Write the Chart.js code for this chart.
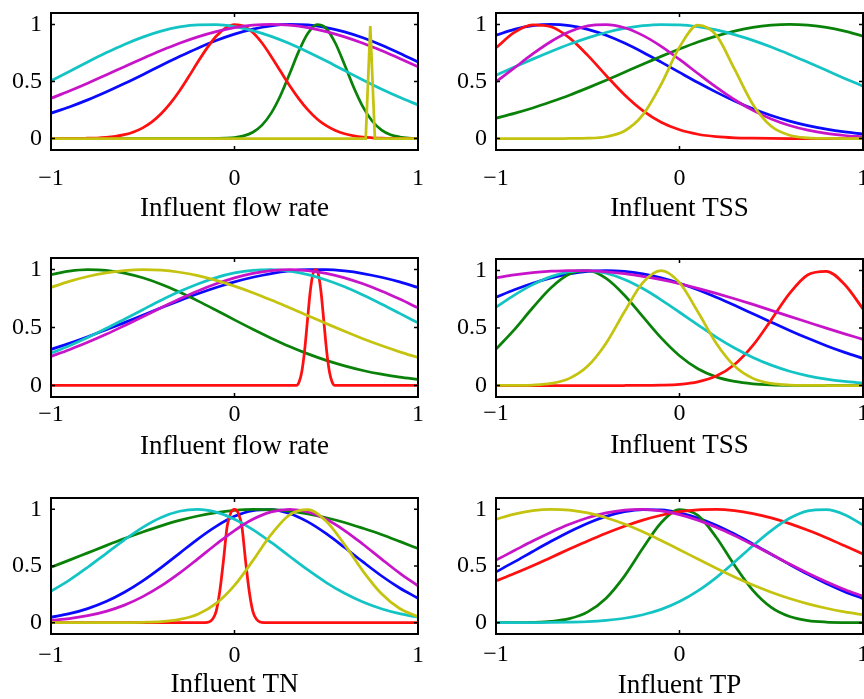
<!DOCTYPE html>
<html>
<head>
<meta charset="utf-8">
<script src="https://cdn.jsdelivr.net/npm/chart.js@4.4.0/dist/chart.umd.min.js"></script>
<style>
  body { margin: 0; background: #fff; }
  #fig { position: relative; width: 864px; height: 699px; overflow: hidden; background: #fff; }
  .cell { position: absolute; width: 432px; height: 233px; }
</style>
</head>
<body>
<div id="fig"></div>
<script>
// shared sample positions
const xs = [-1, -0.9, -0.8, -0.7, -0.6, -0.5, -0.4, -0.3, -0.2, -0.1, 0, 0.1, 0.2, 0.3, 0.4, 0.5, 0.6, 0.7, 0.8, 0.9, 1];
const xsHalf = [-1, -0.95, -0.9, -0.85, -0.8, -0.75, -0.7, -0.65, -0.6, -0.55, -0.5, -0.45, -0.4, -0.35, -0.3, -0.25, -0.2, -0.15, -0.1, -0.05,
  0, 0.05, 0.1, 0.15, 0.2, 0.25, 0.3, 0.35, 0.4, 0.45, 0.5, 0.55, 0.6, 0.65, 0.7, 0.75, 0.8, 0.85, 0.9, 0.95, 1];

const xTickVals = [-1, 0, 1];
const xTickText = ['\u22121', '0', '1'];
const yTickVals = [0, 0.5, 1];
const yTickText = ['0', '0.5', '1'];
const titles = ['Influent flow rate', 'Influent TSS', 'Influent flow rate', 'Influent TSS', 'Influent TN', 'Influent TP'];

// panel 1 - influent flow rate
const p1Blue = [0.223, 0.277, 0.339, 0.408, 0.482, 0.560, 0.640, 0.718, 0.792, 0.859, 0.915, 0.959, 0.988, 1.000, 0.995, 0.972, 0.935, 0.883, 0.820, 0.748, 0.671];
const p1Green = [0, 0, 0, 0, 0, 0, 0, 0, 0, 0, 0, 0, 0, 0, 0, 0, 0, 0, 0.001, 0.003,
  0.009, 0.024, 0.056, 0.118, 0.223, 0.375, 0.566, 0.764, 0.923, 0.998, 0.965, 0.835, 0.647, 0.448, 0.278, 0.154, 0.077, 0.034, 0.014, 0.005, 0.002];
const p1Red = [0, 0, 0.001, 0.001, 0.003, 0.005, 0.010, 0.019, 0.034, 0.058, 0.094, 0.146, 0.217, 0.308, 0.417, 0.541, 0.670, 0.792, 0.896, 0.968,
  0.999, 0.986, 0.929, 0.837, 0.720, 0.592, 0.465, 0.350, 0.251, 0.172, 0.113, 0.071, 0.042, 0.024, 0.013, 0.007, 0.003, 0.002, 0.001, 0, 0];
const p1Cyan = [0.506, 0.588, 0.671, 0.751, 0.825, 0.889, 0.941, 0.978, 0.997, 0.998, 0.981, 0.946, 0.895, 0.832, 0.758, 0.679, 0.596, 0.514, 0.435, 0.362, 0.295];
const p1Magenta = [0.353, 0.417, 0.485, 0.557, 0.630, 0.702, 0.771, 0.835, 0.891, 0.937, 0.972, 0.993, 1.000, 0.993, 0.972, 0.937, 0.891, 0.835, 0.771, 0.702, 0.630];
const p1YellowX = [-1, 0.715, 0.74, 0.765, 1];
const p1Yellow = [0, 0, 0.985, 0, 0];

// panel 2 - influent TSS
const p2Blue = [0.905, 0.957, 0.989, 1.000, 0.989, 0.957, 0.905, 0.837, 0.757, 0.670, 0.580, 0.491, 0.407, 0.329, 0.261, 0.202, 0.153, 0.113, 0.082, 0.058, 0.040];
const p2Green = [0.179, 0.221, 0.268, 0.322, 0.380, 0.444, 0.511, 0.581, 0.651, 0.720, 0.785, 0.846, 0.898, 0.941, 0.974, 0.993, 1.000, 0.993, 0.974, 0.941, 0.898];
const p2Red = [0.795, 0.930, 0.996, 0.979, 0.882, 0.729, 0.553, 0.384, 0.245, 0.143, 0.077, 0.038, 0.017, 0.007, 0.003, 0.001, 0, 0, 0, 0, 0];
const p2Cyan = [0.555, 0.626, 0.696, 0.763, 0.826, 0.882, 0.929, 0.965, 0.989, 0.999, 0.997, 0.981, 0.952, 0.911, 0.860, 0.802, 0.737, 0.668, 0.598, 0.527, 0.459];
const p2Magenta = [0.497, 0.619, 0.741, 0.850, 0.935, 0.987, 0.999, 0.971, 0.904, 0.808, 0.693, 0.570, 0.450, 0.340, 0.247, 0.172, 0.115, 0.074, 0.045, 0.027, 0.015];
const p2Yellow = [0, 0, 0, 0, 0.001, 0.003, 0.016, 0.066, 0.207, 0.475, 0.801, 0.994, 0.906, 0.608, 0.299, 0.108, 0.029, 0.006, 0.001, 0, 0];

// panel 3 - influent flow rate
const p3Blue = [0.311, 0.363, 0.420, 0.480, 0.542, 0.606, 0.670, 0.732, 0.791, 0.845, 0.894, 0.934, 0.966, 0.988, 0.999, 0.999, 0.988, 0.966, 0.934, 0.894, 0.845];
const p3Green = [0.956, 0.987, 1.000, 0.994, 0.970, 0.929, 0.874, 0.806, 0.730, 0.649, 0.566, 0.485, 0.408, 0.336, 0.272, 0.216, 0.169, 0.129, 0.097, 0.072, 0.052];
const p3RedX = [-1, 0.337, 0.352, 0.367, 0.382, 0.397, 0.412, 0.427, 0.442, 0.457, 0.472, 0.487, 0.502, 0.517, 0.532, 0.547, 1];
const p3Red = [0, 0, 0.03, 0.12, 0.30, 0.55, 0.80, 0.96, 1, 0.96, 0.80, 0.55, 0.30, 0.12, 0.03, 0, 0];
const p3Cyan = [0.279, 0.343, 0.414, 0.491, 0.572, 0.654, 0.735, 0.810, 0.876, 0.931, 0.971, 0.994, 1.000, 0.987, 0.957, 0.910, 0.851, 0.780, 0.703, 0.622, 0.540];
const p3Magenta = [0.251, 0.308, 0.372, 0.441, 0.516, 0.593, 0.670, 0.745, 0.815, 0.877, 0.929, 0.968, 0.992, 1.000, 0.992, 0.968, 0.929, 0.877, 0.815, 0.745, 0.670];
const p3Yellow = [0.846, 0.898, 0.940, 0.972, 0.992, 1.000, 0.995, 0.977, 0.948, 0.907, 0.857, 0.800, 0.737, 0.670, 0.602, 0.534, 0.467, 0.403, 0.344, 0.290, 0.241];

// panel 4 - influent TSS
const p4Blue = [0.767, 0.832, 0.889, 0.936, 0.971, 0.993, 1.000, 0.993, 0.971, 0.936, 0.889, 0.832, 0.767, 0.697, 0.624, 0.551, 0.479, 0.410, 0.346, 0.288, 0.236];
const p4Green = [0.316, 0.486, 0.676, 0.850, 0.969, 0.998, 0.931, 0.785, 0.599, 0.414, 0.259, 0.146, 0.075, 0.035, 0.015, 0.006, 0.002, 0.001, 0, 0, 0];
const p4Red = [0, 0, 0, 0, 0, 0, 0, 0, 0.001, 0.003, 0.010, 0.032, 0.082, 0.183, 0.349, 0.571, 0.801, 0.963, 0.993, 0.878, 0.666];
const p4Cyan = [0.681, 0.786, 0.877, 0.947, 0.989, 0.999, 0.976, 0.922, 0.843, 0.745, 0.637, 0.527, 0.421, 0.326, 0.244, 0.177, 0.124, 0.084, 0.055, 0.035, 0.021];
const p4Magenta = [0.936, 0.962, 0.982, 0.994, 1.000, 0.998, 0.989, 0.972, 0.949, 0.920, 0.885, 0.845, 0.801, 0.754, 0.705, 0.653, 0.601, 0.550, 0.499, 0.449, 0.401];
const p4Yellow = [0, 0.001, 0.004, 0.018, 0.062, 0.169, 0.368, 0.641, 0.895, 1.000, 0.895, 0.641, 0.368, 0.169, 0.062, 0.018, 0.004, 0.001, 0, 0, 0];

// panel 5 - influent TN
const p5Blue = [0.048, 0.079, 0.124, 0.186, 0.268, 0.369, 0.486, 0.612, 0.738, 0.850, 0.938, 0.989, 0.998, 0.963, 0.889, 0.785, 0.663, 0.536, 0.414, 0.306, 0.216];
const p5Green = [0.489, 0.552, 0.616, 0.680, 0.742, 0.800, 0.854, 0.902, 0.941, 0.971, 0.991, 1.000, 0.997, 0.984, 0.960, 0.926, 0.884, 0.833, 0.778, 0.717, 0.654];
const p5RedX = [-1, -0.16, -0.14, -0.12, -0.10, -0.08, -0.06, -0.04, -0.02, 0, 0.02, 0.04, 0.06, 0.08, 0.10, 0.12, 0.14, 0.16, 1];
const p5Red = [0, 0, 0.005, 0.03, 0.10, 0.28, 0.55, 0.85, 0.97, 1, 0.97, 0.85, 0.55, 0.28, 0.10, 0.03, 0.005, 0, 0];
const p5Cyan = [0.277, 0.375, 0.489, 0.610, 0.731, 0.841, 0.928, 0.983, 1.000, 0.975, 0.913, 0.821, 0.708, 0.586, 0.465, 0.354, 0.259, 0.182, 0.123, 0.079, 0.049];
const p5Magenta = [0.021, 0.036, 0.062, 0.100, 0.155, 0.230, 0.324, 0.437, 0.563, 0.692, 0.813, 0.912, 0.977, 1.000, 0.977, 0.912, 0.813, 0.692, 0.563, 0.437, 0.324];
const p5Yellow = [0, 0, 0, 0, 0.001, 0.003, 0.009, 0.029, 0.075, 0.170, 0.329, 0.547, 0.779, 0.952, 0.997, 0.895, 0.689, 0.455, 0.257, 0.125, 0.052];

// panel 6 - influent TP
const p6Blue = [0.448, 0.536, 0.628, 0.718, 0.803, 0.878, 0.938, 0.979, 0.998, 0.995, 0.970, 0.924, 0.860, 0.782, 0.695, 0.604, 0.513, 0.426, 0.345, 0.274, 0.212];
const p6Green = [0, 0.001, 0.003, 0.011, 0.035, 0.095, 0.216, 0.411, 0.656, 0.882, 0.997, 0.946, 0.754, 0.506, 0.285, 0.135, 0.054, 0.018, 0.005, 0.001, 0];
const p6Red = [0.369, 0.434, 0.503, 0.576, 0.649, 0.721, 0.789, 0.851, 0.905, 0.948, 0.979, 0.996, 0.999, 0.988, 0.962, 0.924, 0.874, 0.815, 0.749, 0.678, 0.605];
const p6Cyan = [0, 0, 0.001, 0.002, 0.005, 0.010, 0.021, 0.039, 0.070, 0.117, 0.186, 0.280, 0.398, 0.535, 0.679, 0.813, 0.921, 0.986, 0.997, 0.953, 0.861];
const p6Magenta = [0.552, 0.636, 0.720, 0.798, 0.868, 0.926, 0.969, 0.994, 1.000, 0.986, 0.954, 0.905, 0.842, 0.768, 0.687, 0.603, 0.518, 0.437, 0.362, 0.293, 0.233];
const p6Yellow = [0.912, 0.958, 0.988, 1.000, 0.993, 0.968, 0.926, 0.870, 0.802, 0.725, 0.644, 0.561, 0.480, 0.403, 0.332, 0.269, 0.213, 0.166, 0.127, 0.095, 0.070];

// matlab line colours b g r c m y
const colors = ['#0a0aff', '#0a820a', '#ff1010', '#14c4c4', '#c814c8', '#c4c410'];
const serif = "'Liberation Serif', 'Times New Roman', serif";

// each panel: series in b,g,r,c,m,y order as [xs, ys, straight]
const panels = [
  { title: titles[0], left: 0, top: 0, yW: 51, padR: 14, padT: 13, xH: 83, tickPad: 17, titlePad: 11,
    series: [[xs, p1Blue], [xsHalf, p1Green], [xsHalf, p1Red], [xs, p1Cyan], [xs, p1Magenta], [p1YellowX, p1Yellow, true]] },
  { title: titles[1], left: 432, top: 0, yW: 64, padR: 1, padT: 13, xH: 83, tickPad: 17, titlePad: 11,
    series: [[xs, p2Blue], [xs, p2Green], [xs, p2Red], [xs, p2Cyan], [xs, p2Magenta], [xs, p2Yellow]] },
  { title: titles[2], left: 0, top: 233, yW: 51, padR: 14, padT: 25, xH: 69, tickPad: 6, titlePad: 6,
    series: [[xs, p3Blue], [xs, p3Green], [p3RedX, p3Red], [xs, p3Cyan], [xs, p3Magenta], [xs, p3Yellow]] },
  { title: titles[3], left: 432, top: 233, yW: 64, padR: 1, padT: 26, xH: 69, tickPad: 5, titlePad: 7,
    series: [[xs, p4Blue], [xs, p4Green], [xs, p4Red], [xs, p4Cyan], [xs, p4Magenta], [xs, p4Yellow]] },
  { title: titles[4], left: 0, top: 466, yW: 51, padR: 14, padT: 32, xH: 65, tickPad: 10, titlePad: 1,
    series: [[xs, p5Blue], [xs, p5Green], [p5RedX, p5Red], [xs, p5Cyan], [xs, p5Magenta], [xs, p5Yellow]] },
  { title: titles[5], left: 432, top: 466, yW: 64, padR: 1, padT: 32, xH: 65, tickPad: 9, titlePad: 0,
    series: [[xs, p6Blue], [xs, p6Green], [xs, p6Red], [xs, p6Cyan], [xs, p6Magenta], [xs, p6Yellow]] }
];

// black box with inward ticks, matlab style
const boxPlugin = {
  id: 'box',
  afterDatasetsDraw(chart) {
    const { ctx, chartArea: a, scales } = chart;
    ctx.save();
    ctx.strokeStyle = '#000';
    ctx.lineWidth = 2;
    ctx.strokeRect(a.left, a.top, a.right - a.left, a.bottom - a.top);
    ctx.lineWidth = 1.5;
    ctx.beginPath();
    xTickVals.forEach(v => {
      const px = scales.x.getPixelForValue(v);
      ctx.moveTo(px, a.bottom); ctx.lineTo(px, a.bottom - 4);
      ctx.moveTo(px, a.top); ctx.lineTo(px, a.top + 4);
    });
    yTickVals.forEach(v => {
      const py = scales.y.getPixelForValue(v);
      ctx.moveTo(a.left, py); ctx.lineTo(a.left + 4, py);
      ctx.moveTo(a.right, py); ctx.lineTo(a.right - 4, py);
    });
    ctx.stroke();
    ctx.restore();
  }
};

const fig = document.getElementById('fig');
panels.forEach(p => {
  const cell = document.createElement('div');
  cell.className = 'cell';
  cell.style.left = p.left + 'px';
  cell.style.top = p.top + 'px';
  const canvas = document.createElement('canvas');
  canvas.width = 432;
  canvas.height = 233;
  cell.appendChild(canvas);
  fig.appendChild(cell);

  const datasets = p.series.map((s, i) => ({
    data: s[0].map((x, j) => ({ x: x, y: s[1][j] })),
    borderColor: colors[i],
    borderWidth: 2.75,
    pointRadius: 0,
    fill: false,
    order: 5 - i,
    tension: 0,
    cubicInterpolationMode: s[2] ? 'default' : 'monotone'
  }));

  new Chart(canvas, {
    type: 'line',
    data: { datasets: datasets },
    options: {
      responsive: false,
      animation: false,
      devicePixelRatio: 1,
      layout: { padding: { left: 0, right: p.padR, top: p.padT, bottom: 0 } },
      plugins: { legend: { display: false }, tooltip: { enabled: false } },
      scales: {
        x: {
          type: 'linear', min: -1, max: 1,
          afterBuildTicks: s => { s.ticks = xTickVals.map(v => ({ value: v })); },
          afterFit: s => { s.height = p.xH; s.paddingLeft = 0; s.paddingRight = 0; },
          grid: { display: false, drawTicks: false },
          border: { display: false },
          ticks: {
            autoSkip: false, maxRotation: 0, padding: p.tickPad, color: '#000',
            font: { family: serif, size: 24, lineHeight: 1 },
            callback: v => xTickText[xTickVals.indexOf(v)]
          },
          title: {
            display: true, text: p.title, color: '#000',
            font: { family: serif, size: 27, lineHeight: 1 },
            padding: { top: 0, bottom: p.titlePad }
          }
        },
        y: {
          type: 'linear', min: -0.1, max: 1.1,
          afterBuildTicks: s => { s.ticks = yTickVals.map(v => ({ value: v })); },
          afterFit: s => { s.width = p.yW; s.paddingTop = 0; s.paddingBottom = 0; },
          grid: { display: false, drawTicks: false },
          border: { display: false },
          ticks: {
            autoSkip: false, padding: 9, color: '#000',
            font: { family: serif, size: 24, lineHeight: 1 },
            callback: v => yTickText[yTickVals.indexOf(v)]
          }
        }
      }
    },
    plugins: [boxPlugin]
  });
});
</script>
</body>
</html>
